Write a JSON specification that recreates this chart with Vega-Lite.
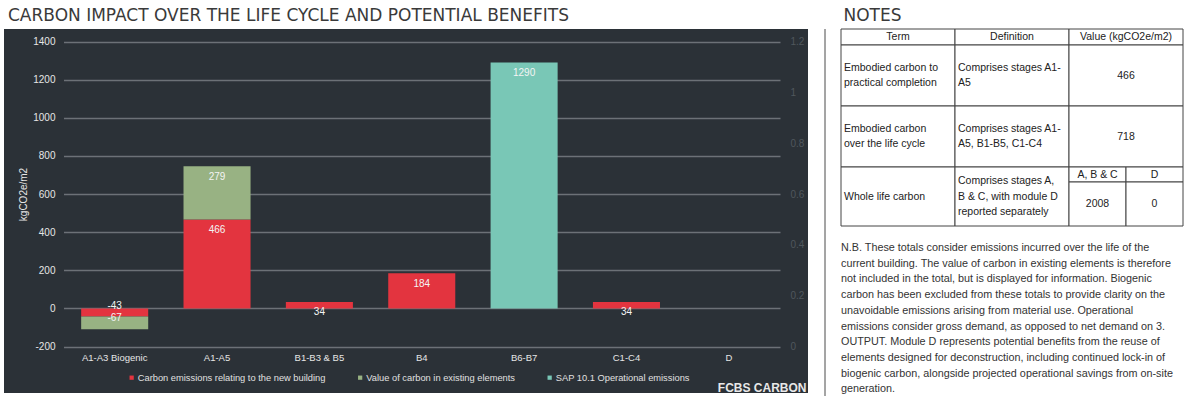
{
  "$schema": "https://vega.github.io/schema/vega-lite/v6.json",
  "background": "white",
  "padding": {"left": 4, "top": 6, "right": 0, "bottom": 0},
  "config": {
    "font": "Liberation Sans",
    "view": {"stroke": null},
    "title": {"font": "DejaVu Sans", "fontSize": 17, "fontWeight": "normal", "color": "#3a3a3a", "anchor": "start"},
    "text": {"font": "Liberation Sans"}
  },
  "datasets": {
    "carbon": [
      {"stage": "A1-A3 Biogenic", "series": "Carbon emissions relating to the new building", "value": -43},
      {"stage": "A1-A3 Biogenic", "series": "Value of carbon in existing elements", "value": -67},
      {"stage": "A1-A5", "series": "Carbon emissions relating to the new building", "value": 466},
      {"stage": "A1-A5", "series": "Value of carbon in existing elements", "value": 279},
      {"stage": "B1-B3 & B5", "series": "Carbon emissions relating to the new building", "value": 34},
      {"stage": "B4", "series": "Carbon emissions relating to the new building", "value": 184},
      {"stage": "B6-B7", "series": "SAP 10.1 Operational emissions", "value": 1290},
      {"stage": "C1-C4", "series": "Carbon emissions relating to the new building", "value": 34}
    ],
    "table": [
      {"row": "header", "col": "Term", "text": "Term"},
      {"row": "header", "col": "Definition", "text": "Definition"},
      {"row": "header", "col": "Value", "text": "Value (kgCO2e/m2)"},
      {"row": "r1", "col": "Term", "text": "Embodied carbon to\npractical completion"},
      {"row": "r1", "col": "Definition", "text": "Comprises stages  A1-\nA5"},
      {"row": "r1", "col": "Value", "text": "466"},
      {"row": "r2", "col": "Term", "text": "Embodied carbon\nover the life cycle"},
      {"row": "r2", "col": "Definition", "text": "Comprises stages  A1-\nA5, B1-B5, C1-C4"},
      {"row": "r2", "col": "Value", "text": "718"},
      {"row": "r3", "col": "Term", "text": "Whole life carbon"},
      {"row": "r3", "col": "Definition", "text": "Comprises stages A,\nB & C, with module D\nreported separately"},
      {"row": "r3sub", "col": "A, B & C", "text": "A, B & C"},
      {"row": "r3sub", "col": "D", "text": "D"},
      {"row": "r3val", "col": "A, B & C", "text": "2008"},
      {"row": "r3val", "col": "D", "text": "0"}
    ],
    "notes": [
      {"text": "N.B. These totals consider emissions incurred over the life of the\ncurrent building. The value of carbon in existing elements is therefore\nnot included in the total, but is displayed for information. Biogenic\ncarbon has been excluded from these totals to provide clarity on the\nunavoidable emissions arising from material use. Operational\nemissions consider gross demand, as opposed to net demand on 3.\nOUTPUT. Module D represents potential benefits from the reuse of\nelements designed for deconstruction, including continued lock-in of\nbiogenic carbon, alongside projected operational savings from on-site\ngeneration."}
    ]
  },
  "spacing": 16,
  "hconcat": [
    {
      "width": 804,
      "height": 364,
      "title": {"text": "CARBON IMPACT OVER THE LIFE CYCLE AND POTENTIAL BENEFITS", "dx": 4, "offset": 4},
      "view": {"fill": "#2b3137", "stroke": null},
      "layer": [
        {
          "layer": [
            {
              "data": {"name": "carbon"},
              "transform": [{"stack": "value", "groupby": ["stage"], "sort": [{"field": "series", "order": "ascending"}], "as": ["v0", "v1"]}],
              "mark": {"type": "bar"},
              "encoding": {
                "x": {
                  "field": "stage", "type": "nominal", "sort": null,
                  "scale": {"domain": ["A1-A3 Biogenic", "A1-A5", "B1-B3 & B5", "B4", "B6-B7", "C1-C4", "D"], "range": [59.5, 776], "paddingInner": 0.345, "paddingOuter": 0.1725},
                  "axis": {"orient": "bottom", "offset": -42.5, "title": null, "labelAngle": 0, "labelPadding": 2, "labelColor": "#e6e6e6", "labelFontSize": 9.5, "domain": false, "ticks": false, "tickSize": 0, "grid": false}
                },
                "y": {
                  "field": "v1", "type": "quantitative",
                  "scale": {"domain": [-200, 1400], "range": [317.5, 12.5], "nice": false, "zero": false},
                  "axis": {"title": "kgCO2e/m2", "titleColor": "#e6e6e6", "titleFontSize": 10, "titleFontWeight": "normal", "titlePadding": 4, "values": [-200, 0, 200, 400, 600, 800, 1000, 1200, 1400], "labelExpr": "'' + datum.value", "offset": -54, "labelPadding": 3, "labelColor": "#e6e6e6", "labelFontSize": 10, "domain": false, "ticks": false, "tickSize": 0, "grid": true, "gridColor": "#6c7177", "gridWidth": 1.3}
                },
                "y2": {"field": "v0"},
                "color": {
                  "field": "series", "type": "nominal",
                  "scale": {"domain": ["Carbon emissions relating to the new building", "Value of carbon in existing elements", "SAP 10.1 Operational emissions"], "range": ["#e3343f", "#98b283", "#79c7b6"]},
                  "legend": {"orient": "none", "legendX": 123, "legendY": 344, "direction": "horizontal", "title": null, "symbolType": "square", "symbolSize": 18, "symbolStrokeWidth": 0, "labelColor": "#e0e0e0", "labelFontSize": 9.3, "labelFont": "Liberation Sans", "labelOffset": 1.5, "columnPadding": 29.5, "labelLimit": 400}
                }
              }
            },
            {
              "data": {"name": "carbon"},
              "transform": [{"stack": "value", "groupby": ["stage"], "sort": [{"field": "series", "order": "ascending"}], "as": ["v0", "v1"]}, {"filter": "datum.value > 0"}],
              "mark": {"type": "text", "color": "#f4f4f4", "fontSize": 10, "baseline": "middle", "dy": 10.5},
              "encoding": {
                "x": {"field": "stage", "type": "nominal", "sort": null},
                "y": {"field": "v1", "type": "quantitative",
                  "axis": {"title": "kgCO2e/m2", "titleColor": "#e6e6e6", "titleFontSize": 10, "titleFontWeight": "normal", "titlePadding": 4, "values": [-200, 0, 200, 400, 600, 800, 1000, 1200, 1400], "labelExpr": "'' + datum.value", "offset": -54, "labelPadding": 3, "labelColor": "#e6e6e6", "labelFontSize": 10, "domain": false, "ticks": false, "tickSize": 0, "grid": true, "gridColor": "#6c7177", "gridWidth": 1.3}},
                "text": {"field": "value", "type": "nominal"}
              }
            },
            {
              "data": {"name": "carbon"},
              "transform": [{"stack": "value", "groupby": ["stage"], "sort": [{"field": "series", "order": "ascending"}], "as": ["v0", "v1"]}, {"filter": "datum.value < 0 && datum.series == 'Carbon emissions relating to the new building'"}],
              "mark": {"type": "text", "color": "#f4f4f4", "fontSize": 10, "baseline": "middle", "dy": -2},
              "encoding": {
                "x": {"field": "stage", "type": "nominal", "sort": null},
                "y": {"field": "v0", "type": "quantitative",
                  "axis": {"title": "kgCO2e/m2", "titleColor": "#e6e6e6", "titleFontSize": 10, "titleFontWeight": "normal", "titlePadding": 4, "values": [-200, 0, 200, 400, 600, 800, 1000, 1200, 1400], "labelExpr": "'' + datum.value", "offset": -54, "labelPadding": 3, "labelColor": "#e6e6e6", "labelFontSize": 10, "domain": false, "ticks": false, "tickSize": 0, "grid": true, "gridColor": "#6c7177", "gridWidth": 1.3}},
                "text": {"field": "value", "type": "nominal"}
              }
            },
            {
              "data": {"name": "carbon"},
              "transform": [{"stack": "value", "groupby": ["stage"], "sort": [{"field": "series", "order": "ascending"}], "as": ["v0", "v1"]}, {"filter": "datum.value < 0 && datum.series != 'Carbon emissions relating to the new building'"}],
              "mark": {"type": "text", "color": "#f4f4f4", "fontSize": 10, "baseline": "middle", "dy": 1.5},
              "encoding": {
                "x": {"field": "stage", "type": "nominal", "sort": null},
                "y": {"field": "v0", "type": "quantitative",
                  "axis": {"title": "kgCO2e/m2", "titleColor": "#e6e6e6", "titleFontSize": 10, "titleFontWeight": "normal", "titlePadding": 4, "values": [-200, 0, 200, 400, 600, 800, 1000, 1200, 1400], "labelExpr": "'' + datum.value", "offset": -54, "labelPadding": 3, "labelColor": "#e6e6e6", "labelFontSize": 10, "domain": false, "ticks": false, "tickSize": 0, "grid": true, "gridColor": "#6c7177", "gridWidth": 1.3}},
                "text": {"field": "value", "type": "nominal"}
              }
            },
            {
              "data": {"values": [{"brand": "FCBS CARBON"}]},
              "mark": {"type": "text", "align": "left", "baseline": "middle", "dx": -11, "fontSize": 12, "fontWeight": "bold", "color": "#e8e8e8"},
              "encoding": {
                "x": {"datum": "D", "type": "nominal"},
                "y": {"datum": -420, "type": "quantitative",
                  "axis": {"title": "kgCO2e/m2", "titleColor": "#e6e6e6", "titleFontSize": 10, "titleFontWeight": "normal", "titlePadding": 4, "values": [-200, 0, 200, 400, 600, 800, 1000, 1200, 1400], "labelExpr": "'' + datum.value", "offset": -54, "labelPadding": 3, "labelColor": "#e6e6e6", "labelFontSize": 10, "domain": false, "ticks": false, "tickSize": 0, "grid": true, "gridColor": "#6c7177", "gridWidth": 1.3}},
                "text": {"field": "brand", "type": "nominal"}
              }
            }
          ]
        },
        {
          "data": {"values": [{"ratio": 0}]},
          "mark": {"type": "rule", "strokeOpacity": 0},
          "encoding": {
            "y": {
              "field": "ratio", "type": "quantitative",
              "scale": {"domain": [0, 1.2], "range": [317.5, 12.5], "nice": false, "zero": false},
              "axis": {"orient": "right", "title": null, "values": [0, 0.2, 0.4, 0.6, 0.8, 1, 1.2], "format": ".1~f", "offset": -21, "labelPadding": 3, "labelColor": "#50575d", "labelFontSize": 10, "domain": false, "ticks": false, "tickSize": 0, "grid": false}
            }
          }
        }
      ],
      "resolve": {"scale": {"y": "independent"}, "axis": {"y": "independent"}}
    },
    {
      "spacing": 14,
      "hconcat": [
        {
          "width": 1,
          "height": 390,
          "data": {"values": [{"edge": 0}]},
          "mark": {"type": "rule", "color": "#4a4a4a", "strokeWidth": 1},
          "encoding": {"x": {"field": "edge", "type": "quantitative", "scale": {"domain": [0, 1]}, "axis": null}}
        },
        {
          "title": {"text": "NOTES", "dx": 3, "offset": 4},
          "spacing": 15,
          "vconcat": [
            {
              "spacing": 0,
              "bounds": "flush",
              "vconcat": [
                {
                  "width": 342, "height": 16,
                  "data": {"name": "table"},
                  "transform": [{"filter": "datum.row == 'header'"}],
                  "encoding": {"x": {"field": "col", "type": "nominal", "sort": null, "scale": {"domain": ["Term", "Definition", "Value"], "paddingInner": 0, "paddingOuter": 0}, "axis": null}},
                  "layer": [
                    {"mark": {"type": "rect", "fill": "white", "stroke": "#444444", "strokeWidth": 1}},
                    {"mark": {"type": "text", "fontSize": 10.5, "color": "#222222", "baseline": "middle"}, "encoding": {"text": {"field": "text", "type": "nominal"}}}
                  ]
                },
                {
                  "width": 342, "height": 61,
                  "data": {"name": "table"},
                  "transform": [{"filter": "datum.row == 'r1'"}],
                  "encoding": {"x": {"field": "col", "type": "nominal", "sort": null, "scale": {"domain": ["Term", "Definition", "Value"], "paddingInner": 0, "paddingOuter": 0}, "axis": null}},
                  "layer": [
                    {"mark": {"type": "rect", "fill": "white", "stroke": "#444444", "strokeWidth": 1}},
                    {"transform": [{"filter": "datum.col != 'Value'"}], "mark": {"type": "text", "align": "left", "baseline": "middle", "dx": 3, "dy": -7.5, "fontSize": 10.5, "lineBreak": "\n", "lineHeight": 15, "color": "#222222"}, "encoding": {"x": {"field": "col", "type": "nominal", "sort": null, "bandPosition": 0, "axis": null}, "text": {"field": "text", "type": "nominal"}}},
                    {"transform": [{"filter": "datum.col == 'Value'"}], "mark": {"type": "text", "baseline": "middle", "fontSize": 10.5, "color": "#222222"}, "encoding": {"text": {"field": "text", "type": "nominal"}}}
                  ]
                },
                {
                  "width": 342, "height": 61,
                  "data": {"name": "table"},
                  "transform": [{"filter": "datum.row == 'r2'"}],
                  "encoding": {"x": {"field": "col", "type": "nominal", "sort": null, "scale": {"domain": ["Term", "Definition", "Value"], "paddingInner": 0, "paddingOuter": 0}, "axis": null}},
                  "layer": [
                    {"mark": {"type": "rect", "fill": "white", "stroke": "#444444", "strokeWidth": 1}},
                    {"transform": [{"filter": "datum.col != 'Value'"}], "mark": {"type": "text", "align": "left", "baseline": "middle", "dx": 3, "dy": -7.5, "fontSize": 10.5, "lineBreak": "\n", "lineHeight": 15, "color": "#222222"}, "encoding": {"x": {"field": "col", "type": "nominal", "sort": null, "bandPosition": 0, "axis": null}, "text": {"field": "text", "type": "nominal"}}},
                    {"transform": [{"filter": "datum.col == 'Value'"}], "mark": {"type": "text", "baseline": "middle", "fontSize": 10.5, "color": "#222222"}, "encoding": {"text": {"field": "text", "type": "nominal"}}}
                  ]
                },
                {
                  "spacing": 0,
                  "bounds": "flush",
                  "hconcat": [
                    {
                      "width": 228, "height": 59,
                      "data": {"name": "table"},
                      "transform": [{"filter": "datum.row == 'r3'"}],
                      "encoding": {"x": {"field": "col", "type": "nominal", "sort": null, "scale": {"domain": ["Term", "Definition"], "paddingInner": 0, "paddingOuter": 0}, "axis": null}},
                      "layer": [
                        {"mark": {"type": "rect", "fill": "white", "stroke": "#444444", "strokeWidth": 1}},
                        {"transform": [{"filter": "datum.col == 'Term'"}], "mark": {"type": "text", "align": "left", "baseline": "middle", "dx": 3, "fontSize": 10.5, "color": "#222222"}, "encoding": {"x": {"field": "col", "type": "nominal", "sort": null, "bandPosition": 0, "axis": null}, "text": {"field": "text", "type": "nominal"}}},
                        {"transform": [{"filter": "datum.col == 'Definition'"}], "mark": {"type": "text", "align": "left", "baseline": "middle", "dx": 3, "dy": -15.5, "fontSize": 10.5, "lineBreak": "\n", "lineHeight": 15.5, "color": "#222222"}, "encoding": {"x": {"field": "col", "type": "nominal", "sort": null, "bandPosition": 0, "axis": null}, "text": {"field": "text", "type": "nominal"}}}
                      ]
                    },
                    {
                      "spacing": 0,
                      "bounds": "flush",
                      "vconcat": [
                        {
                          "width": 114, "height": 15,
                          "data": {"name": "table"},
                          "transform": [{"filter": "datum.row == 'r3sub'"}],
                          "encoding": {"x": {"field": "col", "type": "nominal", "sort": null, "scale": {"domain": ["A, B & C", "D"], "paddingInner": 0, "paddingOuter": 0}, "axis": null}},
                          "layer": [
                            {"mark": {"type": "rect", "fill": "white", "stroke": "#444444", "strokeWidth": 1}},
                            {"mark": {"type": "text", "baseline": "middle", "fontSize": 10.5, "color": "#222222"}, "encoding": {"text": {"field": "text", "type": "nominal"}}}
                          ]
                        },
                        {
                          "width": 114, "height": 44,
                          "data": {"name": "table"},
                          "transform": [{"filter": "datum.row == 'r3val'"}],
                          "encoding": {"x": {"field": "col", "type": "nominal", "sort": null, "scale": {"domain": ["A, B & C", "D"], "paddingInner": 0, "paddingOuter": 0}, "axis": null}},
                          "layer": [
                            {"mark": {"type": "rect", "fill": "white", "stroke": "#444444", "strokeWidth": 1}},
                            {"mark": {"type": "text", "baseline": "middle", "fontSize": 10.5, "color": "#222222"}, "encoding": {"text": {"field": "text", "type": "nominal"}}}
                          ]
                        }
                      ]
                    }
                  ]
                }
              ]
            },
            {
              "width": 342, "height": 148,
              "data": {"name": "notes"},
              "mark": {"type": "text", "align": "left", "baseline": "top", "lineBreak": "\n", "lineHeight": 15.7, "fontSize": 10.8, "color": "#333333"},
              "encoding": {
                "x": {"datum": 0, "type": "quantitative", "scale": {"domain": [0, 1]}, "axis": null},
                "y": {"datum": 1, "type": "quantitative", "scale": {"domain": [0, 1]}, "axis": null},
                "text": {"field": "text", "type": "nominal"}
              }
            }
          ]
        }
      ]
    }
  ]
}
